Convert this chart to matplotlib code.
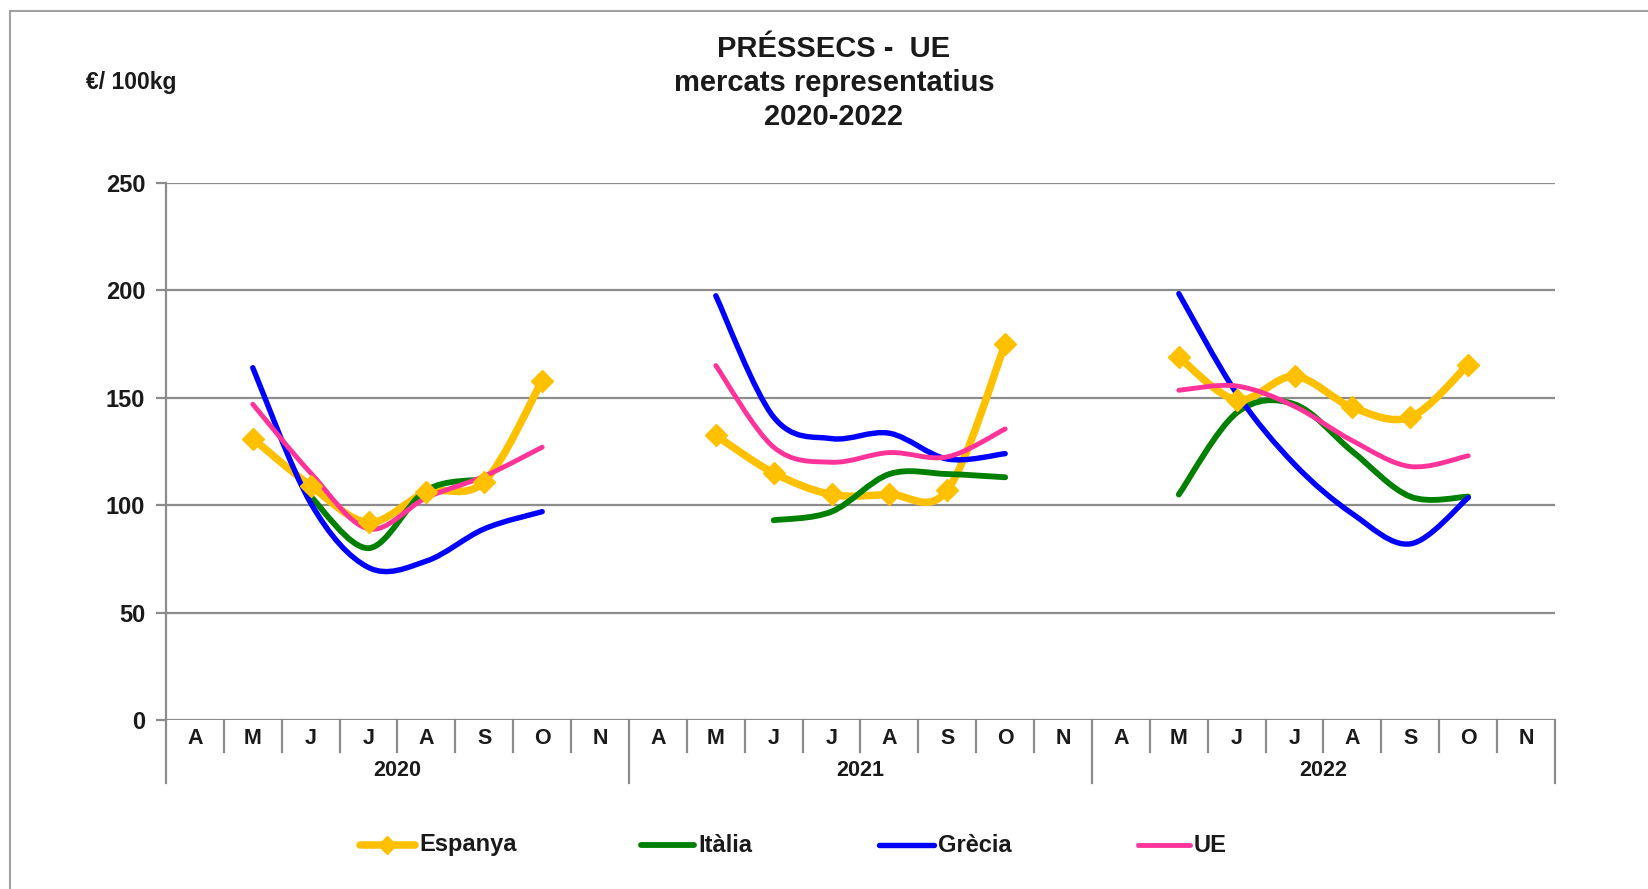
import matplotlib

matplotlib.use("Agg")
import matplotlib.pyplot as plt
import numpy as np
from matplotlib.lines import Line2D
from matplotlib.patches import PathPatch, Rectangle
from matplotlib.path import Path

plt.rcParams["font.family"] = ["Liberation Sans", "DejaVu Sans"]

nan = np.nan
months = ["A", "M", "J", "J", "A", "S", "O", "N"]
years = ["2020", "2021", "2022"]

espanya = [nan, 131, 109, 92, 106, 111, 158, nan,
           nan, 132.5, 115, 105, 105, 107, 175, nan,
           nan, 169, 149, 160, 145.5, 141, 165.5, nan]
italia = [nan, nan, 104, 80, 107, 112, nan, nan,
          nan, nan, 93, 97, 114.5, 114.5, 113, nan,
          nan, 105, 143, 147, 125, 104, 104, nan]
grecia = [nan, 164, 101, 71, 74, 89, 97, nan,
          nan, 197.5, 141, 131, 133.5, 121.5, 124, nan,
          nan, 198.5, 152, 119, 96, 82, 103.5, nan]
ue = [nan, 147, 115, 89, 103.5, 113.5, 127, nan,
      nan, 165, 127, 120, 124.5, 122.5, 135.5, nan,
      nan, 153.5, 155.5, 146, 130, 118, 123, nan]

series = [
    ("Espanya", espanya, "#FFC000", 5.4, True),
    ("Itàlia", italia, "#008000", 4.2, False),
    ("Grècia", grecia, "#0000FF", 3.9, False),
    ("UE", ue, "#FF3399", 3.5, False),
]

TXT = "#1a1a1a"
GRID = "#8c8c8c"


def smooth_path(xs, ys):
    # Excel-style smoothed line: Catmull-Rom as cubic Bezier segments
    pts = np.column_stack([xs, ys])
    verts = [pts[0]]
    codes = [Path.MOVETO]
    n = len(pts)
    for i in range(n - 1):
        p0 = pts[max(i - 1, 0)]
        p1 = pts[i]
        p2 = pts[i + 1]
        p3 = pts[min(i + 2, n - 1)]
        c1 = p1 + (p2 - p0) / 6
        c2 = p2 - (p3 - p1) / 6
        verts += [c1, c2, p2]
        codes += [Path.CURVE4] * 3
    return Path(verts, codes)


fig = plt.figure(figsize=(16.49, 8.89), dpi=100)
ax = fig.add_axes([166 / 1649, 1 - 720 / 889, (1555 - 166) / 1649, (720 - 183) / 889])

ncat = len(months) * len(years)
x = np.arange(ncat) + 0.5

for name, vals, color, lw, marker in series:
    v = np.array(vals, dtype=float)
    ok = ~np.isnan(v)
    # split in contiguous runs
    idx = np.where(ok)[0]
    runs = np.split(idx, np.where(np.diff(idx) > 1)[0] + 1)
    for r in runs:
        if len(r) < 2:
            continue
        p = smooth_path(x[r], v[r])
        ax.add_patch(PathPatch(p, fill=False, edgecolor=color, lw=lw,
                               capstyle="round", joinstyle="round"))
    if marker:
        ax.plot(x[ok], v[ok], ls="none", marker="D", ms=11, color=color)

ax.set_xlim(0, ncat)
ax.set_ylim(0, 250)
ax.set_yticks(range(0, 251, 50))
ax.yaxis.grid(True, color=GRID, lw=1.6)
ax.set_axisbelow(True)
for s in ["top", "right", "bottom"]:
    ax.spines[s].set_visible(False)
ax.spines["left"].set_color(GRID)
ax.spines["left"].set_linewidth(1.6)
ax.tick_params(axis="y", length=7, width=1.6, color=GRID, pad=8,
               labelsize=17, labelcolor=TXT)
for lab in ax.get_yticklabels():
    lab.set_fontweight("bold")
ax.set_xticks([])

# two-level category axis
tr = ax.get_xaxis_transform()
axh = 720 - 183
tick_y = -32 / axh
year_y = -63 / axh
for b in range(ncat + 1):
    y_end = year_y if b % len(months) == 0 else tick_y
    ax.plot([b, b], [0, y_end], color=GRID, lw=1.6, transform=tr, clip_on=False)
for i in range(ncat):
    ax.text(x[i], -18 / axh, months[i % len(months)], transform=tr, ha="center",
            va="center", fontsize=15.5, fontweight="bold", color=TXT)
for j, yr in enumerate(years):
    ax.text(len(months) * (j + 0.5), -50 / axh, yr, transform=tr, ha="center",
            va="center", fontsize=15.5, fontweight="bold", color=TXT)

# titles
fig.text(834 / 1649, 1 - 83 / 889, "PRÉSSECS -  UE\nmercats representatius\n2020-2022",
         ha="center", va="center", fontsize=21, fontweight="bold", color=TXT,
         linespacing=1.29)
fig.text(86 / 1649, 1 - 82 / 889, "€/ 100kg", ha="left", va="center",
         fontsize=16.5, fontweight="bold", color=TXT)

# legend
leg_y = 1 - 845 / 889
for (name, vals, color, lw, marker), (x0, x1) in zip(
        series, [(360, 415), (641, 694), (879, 934), (1138, 1190)]):
    fig.add_artist(Line2D([x0 / 1649, x1 / 1649], [leg_y, leg_y], color=color,
                          lw=lw, solid_capstyle="round"))
    if marker:
        fig.add_artist(Line2D([(x0 + x1) / 2 / 1649], [leg_y], marker="D", ms=9,
                              color=color))
    fig.text((x1 + 4) / 1649, leg_y, name, ha="left", va="center", fontsize=17,
             fontweight="bold", color=TXT)

# outer chart frame
fig.add_artist(Rectangle((10 / 1649, -0.01), 1.1, 1 - 11 / 889 + 0.01,
                         transform=fig.transFigure, fill=False,
                         edgecolor="#a0a0a0", lw=1.5))

fig.savefig("out.png", dpi=100)
